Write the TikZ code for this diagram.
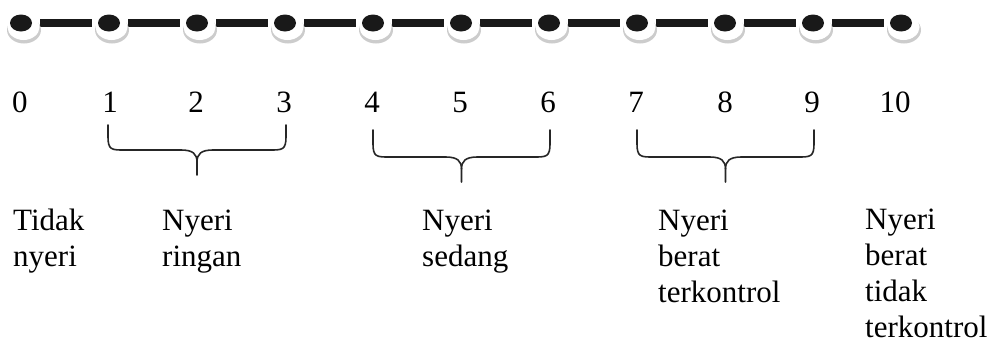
\documentclass[tikz,border=0pt]{standalone}
\usepackage{fontspec}
\setmainfont{Liberation Serif}
\begin{document}
\begin{tikzpicture}[x=1pt,y=-1pt,
  num/.style={font=\fontsize{31}{36.5}\selectfont, inner sep=0pt, anchor=base},
  lbl/.style={font=\fontsize{31}{36}\selectfont, inner sep=0pt, anchor=base west, align=left},
  bar/.style={line width=8pt, color=black!90},
  brc/.style={line width=1.6pt, color=black!85, line join=round, line cap=round}]
\useasboundingbox (0,0) rectangle (996,343);

% scale points
\foreach \k in {0,...,10}{
  \coordinate (d\k) at (21+88*\k, 23);
}
% thick bars between the points
\foreach \k in {0,...,9}{
  \pgfmathtruncatemacro\nxt{\k+1}
  \draw[bar] ([xshift=19pt]d\k) -- ([xshift=-17pt]d\nxt);
}
% raised buttons with a black dot
\foreach \k in {0,...,10}{
  \fill[gray!40] ([shift={(3,7)}]d\k) ellipse [x radius=17pt, y radius=13.5pt];
  \fill[white] ([shift={(2.5,4)}]d\k) ellipse [x radius=16pt, y radius=13pt];
  \fill[black!90] (d\k) ellipse [x radius=11pt, y radius=8.5pt];
}

% numbers
\foreach \k/\x in {0/20,1/110,2/196,3/284,4/372,5/460,6/548,7/636,8/725,9/812,10/895}{
  \node[num] (n\k) at (\x,112) {\k};
}

% curly braces grouping the numbers
\foreach \L/\R/\t/\h/\p in {108/286/125/150/175, 373/550/130/157/182, 637/814/130/157/182}{
  \pgfmathsetmacro\m{(\L+\R)/2}
  \draw[brc] (\L,\t) -- (\L,\h-13) .. controls (\L,\h) and (\L+4,\h) .. (\L+16,\h)
    -- (\m-16,\h) .. controls (\m-4,\h) and (\m,\h+4) .. (\m,\h+12) -- (\m,\p);
  \draw[brc] (\R,\t) -- (\R,\h-13) .. controls (\R,\h) and (\R-4,\h) .. (\R-16,\h)
    -- (\m+16,\h) .. controls (\m+4,\h) and (\m,\h+4) .. (\m,\h+12);
}

% category labels (anchored at the baseline of their last line)
\node[lbl] (l0) at (13,266) {Tidak\\nyeri};
\node[lbl] (l1) at (162,266) {Nyeri\\ringan};
\node[lbl] (l2) at (422,266) {Nyeri\\sedang};
\node[lbl] (l3) at (658,302) {Nyeri\\berat\\terkontrol};
\node[lbl] (l4) at (865,337) {Nyeri\\berat\\tidak\\terkontrol};
\end{tikzpicture}
\end{document}
